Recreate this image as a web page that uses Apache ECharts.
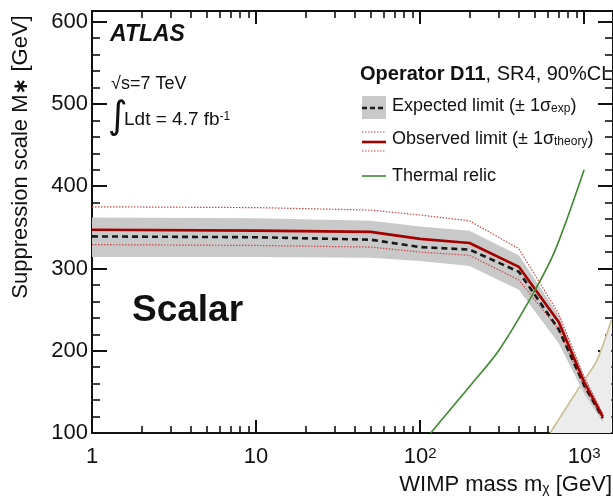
<!DOCTYPE html>
<html><head><meta charset="utf-8">
<script src="https://cdn.jsdelivr.net/npm/echarts@6/dist/echarts.min.js"></script>
<style>html,body{margin:0;padding:0;background:#fff}#c{width:613px;height:499px}</style>
</head><body><div id="c"></div>
<script>
// ---- data ----
const masses        = [1, 10, 50, 100, 200, 400, 700, 1000, 1300];
const observed      = [347, 346, 344.5, 336, 331, 302, 235, 162, 120];
const observedUp    = [375, 374, 371, 365, 358, 324, 245, 168, 123];
const observedDown  = [329, 328, 326, 320, 316, 286, 226, 156, 117];
const expected      = [339, 338, 335, 326, 323, 296, 226, 158, 118];
const expectedUp    = [362, 361, 358, 351, 346, 316, 243, 170, 124];
const expectedDown  = [314, 314, 313, 309, 303, 274, 209, 148, 113];
const relicMasses   = [116, 207, 301, 481, 665, 1000];
const relicValues   = [100, 160, 200, 267, 322, 420];
const validityMasses = [620, 967, 1194, 1465];
const validityValues = [100, 160, 188, 237];
const xTickValues = [1, 10, 100, 1000];
const xTickLabels = ['1', '10', '10{sup|2}', '10{sup|3}'];
const xMinorTicks = [2,3,4,5,6,7,8,9,20,30,40,50,60,70,80,90,200,300,400,500,600,700,800,900];
const yTickValues = [100, 200, 300, 400, 500, 600];
const yMinorTicks = [120,140,160,180,220,240,260,280,320,340,360,380,420,440,460,480,520,540,560,580];
const X_MIN = 1, X_MAX = 1500, Y_MIN = 100, Y_MAX = 613;

const FONT = 'Liberation Sans, Arial, Helvetica, sans-serif';
const INK = '#111';
const xy = (xs, ys) => xs.map((x, i) => [x, ys[i]]);
const lg = v => Math.log10(v);

const chart = echarts.init(document.getElementById('c'), null, {renderer: 'canvas'});

const majorTick = (len) => ({show: true, inside: true, length: len, lineStyle: {color: INK, width: 2}});
const minorTickStyle = (len) => ({show: true, inside: true, length: len, lineStyle: {color: INK, width: 1.6}});
const subStyle = (fs) => ({fontSize: fs, fontFamily: FONT, fill: INK, color: INK, verticalAlign: 'bottom', lineHeight: 6});
const supStyle = (fs) => ({fontSize: fs, fontFamily: FONT, fill: INK, color: INK, verticalAlign: 'top', lineHeight: 6});

const option = {
  animation: false,
  backgroundColor: '#fff',
  grid: {left: 92, right: -2, top: 11, bottom: 66, containLabel: false},
  xAxis: [
    { type: 'log', logBase: 10, min: X_MIN, max: X_MAX, position: 'bottom',
      axisLine: {show: true, lineStyle: {color: INK, width: 2}},
      axisTick: majorTick(13), splitLine: {show: false},
      axisLabel: {
        show: true, margin: 13, showMaxLabel: false, color: INK, fontFamily: FONT, fontSize: 22,
        formatter: v => {
          for (let i = 0; i < xTickValues.length; i++) {
            if (Math.abs(lg(v) - lg(xTickValues[i])) < 1e-6) return xTickLabels[i];
          }
          return '';
        },
        rich: { sup: supStyle(15) }
      } },
    { type: 'value', min: lg(X_MIN), max: lg(X_MAX), position: 'bottom',
      axisLine: {show: false}, axisLabel: {show: false}, splitLine: {show: false},
      axisTick: Object.assign(minorTickStyle(7), {customValues: xMinorTicks.map(lg)}) },
    { type: 'log', logBase: 10, min: X_MIN, max: X_MAX, position: 'top',
      axisLine: {show: true, lineStyle: {color: INK, width: 2}},
      axisTick: majorTick(13), axisLabel: {show: false}, splitLine: {show: false} },
    { type: 'value', min: lg(X_MIN), max: lg(X_MAX), position: 'top',
      axisLine: {show: false}, axisLabel: {show: false}, splitLine: {show: false},
      axisTick: Object.assign(minorTickStyle(7), {customValues: xMinorTicks.map(lg)}) }
  ],
  yAxis: [
    { type: 'value', min: Y_MIN, max: Y_MAX, position: 'left',
      axisLine: {show: true, lineStyle: {color: INK, width: 2}},
      axisTick: Object.assign(majorTick(15), {customValues: yTickValues}),
      axisLabel: {show: true, customValues: yTickValues, margin: 4, color: INK, fontFamily: FONT, fontSize: 22},
      splitLine: {show: false} },
    { type: 'value', min: Y_MIN, max: Y_MAX, position: 'left',
      axisLine: {show: false}, axisLabel: {show: false}, splitLine: {show: false},
      axisTick: Object.assign(minorTickStyle(8), {customValues: yMinorTicks}) },
    { type: 'value', min: Y_MIN, max: Y_MAX, position: 'right',
      axisLine: {show: true, lineStyle: {color: INK, width: 2}},
      axisTick: Object.assign(majorTick(15), {customValues: yTickValues}),
      axisLabel: {show: false}, splitLine: {show: false} },
    { type: 'value', min: Y_MIN, max: Y_MAX, position: 'right',
      axisLine: {show: false}, axisLabel: {show: false}, splitLine: {show: false},
      axisTick: Object.assign(minorTickStyle(8), {customValues: yMinorTicks}) }
  ],
  series: [
    { type: 'line', name: 'validity', xAxisIndex: 0, yAxisIndex: 0,
      data: xy(validityMasses, validityValues), smooth: 0.3, showSymbol: false,
      lineStyle: {color: '#cbbd92', width: 1.6}, areaStyle: {color: '#ececec', opacity: 1, origin: 'start'}, z: 1 },
    { type: 'custom', name: 'expBand', xAxisIndex: 0, yAxisIndex: 0, z: 2,
      data: [[masses[0], expected[0]]],
      renderItem: (params, api) => {
        if (params.dataIndex !== 0) return null;
        const up = masses.map((m, i) => api.coord([m, expectedUp[i]]));
        const dn = masses.map((m, i) => api.coord([m, expectedDown[i]])).reverse();
        return {type: 'polygon', shape: {points: up.concat(dn)}, style: {fill: '#c9c9c9', stroke: null}};
      } },
    { type: 'line', name: 'obsUp', xAxisIndex: 0, yAxisIndex: 0, data: xy(masses, observedUp), showSymbol: false,
      lineStyle: {color: '#d04545', width: 1.2, type: [1.5, 1.5]}, z: 3 },
    { type: 'line', name: 'obsDown', xAxisIndex: 0, yAxisIndex: 0, data: xy(masses, observedDown), showSymbol: false,
      lineStyle: {color: '#d04545', width: 1.2, type: [1.5, 1.5]}, z: 3 },
    { type: 'line', name: 'expected', xAxisIndex: 0, yAxisIndex: 0, data: xy(masses, expected), showSymbol: false,
      lineStyle: {color: '#1a1a1a', width: 2.6, type: [6, 4]}, z: 4 },
    { type: 'line', name: 'observed', xAxisIndex: 0, yAxisIndex: 0, data: xy(masses, observed), showSymbol: false,
      lineStyle: {color: '#a30000', width: 2.6}, z: 5 },
    { type: 'line', name: 'relic', xAxisIndex: 0, yAxisIndex: 0, data: xy(relicMasses, relicValues),
      smooth: 0.3, showSymbol: false,
      lineStyle: {color: '#3b8a2e', width: 1.6}, z: 6 }
  ],
  graphic: [
    { type: 'text', x: 110, y: 35, style: {text: 'ATLAS', font: 'italic bold 23px ' + FONT, fill: INK, textVerticalAlign: 'middle', verticalAlign: 'middle'} },
    { type: 'text', x: 111, y: 84, style: {text: '√s=7 TeV', font: '18px ' + FONT, fill: INK, textVerticalAlign: 'middle', verticalAlign: 'middle'} },
    { type: 'text', x: 108, y: 118, style: {text: '∫', font: '38px DejaVu Sans', fill: INK, textVerticalAlign: 'middle', verticalAlign: 'middle'} },
    { type: 'text', x: 124, y: 120, style: {text: 'Ldt = 4.7 fb{sup|-1}', font: '19px ' + FONT, fill: INK, textVerticalAlign: 'middle', verticalAlign: 'middle',
        rich: {sup: supStyle(12)}} },
    { type: 'text', x: 360, y: 74, style: {text: '{b|Operator D11}, SR4, 90%CL', font: '20px ' + FONT, fill: INK, textVerticalAlign: 'middle', verticalAlign: 'middle',
        rich: {b: {fontSize: 20, fontWeight: 'bold', fontFamily: FONT, fill: INK}}} },
    { type: 'rect', shape: {x: 362, y: 96, width: 24, height: 23}, style: {fill: '#c9c9c9'} },
    { type: 'line', shape: {x1: 362, y1: 108, x2: 386, y2: 108}, style: {stroke: '#1a1a1a', lineWidth: 2.6, lineDash: [5, 3]} },
    { type: 'text', x: 392, y: 106, style: {text: 'Expected limit (± 1σ{sub|exp})', font: '18px ' + FONT, fill: INK, textVerticalAlign: 'middle', verticalAlign: 'middle',
        rich: {sub: subStyle(12)}} },
    { type: 'line', shape: {x1: 362, y1: 132, x2: 386, y2: 132}, style: {stroke: '#d04545', lineWidth: 1.2, lineDash: [1.5, 1.5]} },
    { type: 'line', shape: {x1: 362, y1: 142, x2: 386, y2: 142}, style: {stroke: '#a30000', lineWidth: 2.6} },
    { type: 'line', shape: {x1: 362, y1: 151, x2: 386, y2: 151}, style: {stroke: '#d04545', lineWidth: 1.2, lineDash: [1.5, 1.5]} },
    { type: 'text', x: 392, y: 139, style: {text: 'Observed limit (± 1σ{sub|theory})', font: '18px ' + FONT, fill: INK, textVerticalAlign: 'middle', verticalAlign: 'middle',
        rich: {sub: subStyle(12)}} },
    { type: 'line', shape: {x1: 362, y1: 176, x2: 386, y2: 176}, style: {stroke: '#3b8a2e', lineWidth: 1.6} },
    { type: 'text', x: 392, y: 176, style: {text: 'Thermal relic', font: '18px ' + FONT, fill: INK, textVerticalAlign: 'middle', verticalAlign: 'middle'} },
    { type: 'text', x: 132, y: 311, style: {text: 'Scalar', font: 'bold 37px ' + FONT, fill: INK, textVerticalAlign: 'middle', verticalAlign: 'middle'} },
    { type: 'text', x: 612, y: 485, style: {text: 'WIMP mass m{sub|χ} [GeV]', font: '22px ' + FONT, fill: INK, textAlign: 'right', align: 'right', textVerticalAlign: 'middle', verticalAlign: 'middle',
        rich: {sub: subStyle(14)}} },
    { type: 'text', x: 21, y: 157, rotation: Math.PI / 2, style: {text: 'Suppression scale M{s|∗} [GeV]', font: '22px ' + FONT, fill: INK,
        textAlign: 'center', align: 'center', textVerticalAlign: 'middle', verticalAlign: 'middle',
        rich: {s: {fontSize: 20, fontWeight: 'bold', fontFamily: 'DejaVu Sans', fill: INK, verticalAlign: 'bottom', lineHeight: 6}}} }
  ]
};
chart.setOption(option);
</script>
</body></html>
